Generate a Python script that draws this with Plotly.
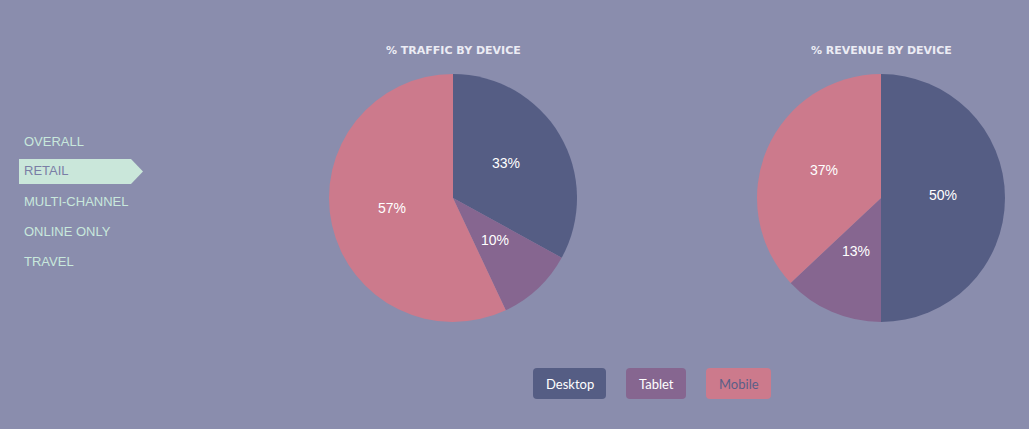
import math
import plotly.graph_objects as go

W, H = 1029, 429
devices = ["Desktop", "Tablet", "Mobile"]
traffic = [33, 10, 57]
revenue = [50, 13, 37]
colors = ["#555D84", "#866690", "#CC7A8C"]
nav_items = ["OVERALL", "RETAIL", "MULTI-CHANNEL", "ONLINE ONLY", "TRAVEL"]
active_nav = "RETAIL"
chart_titles = ["% TRAFFIC BY DEVICE", "% REVENUE BY DEVICE"]

BG = "#8A8DAD"
MINT = "#CAE7DA"

def px(x): return x / W
def py(y): return 1 - y / H

fig = go.Figure()
annotations = []
shapes = []

def add_pie(values, x0, x1, y0, y1):
    fig.add_trace(go.Pie(
        labels=devices, values=values, sort=False, direction="clockwise", rotation=0,
        marker=dict(colors=colors, line=dict(width=0)),
        textinfo="none",
        hoverinfo="none", showlegend=False,
        domain=dict(x=[px(x0), px(x1)], y=[py(y1), py(y0)]),
    ))
    # percentage labels at half radius along each slice's mid-angle
    cx, cy = (x0 + x1) / 2, (y0 + y1) / 2
    r = (x1 - x0) / 2 * 0.5
    total = sum(values)
    cum = 0
    for v in values:
        mid = (cum + v / 2) / total * 2 * math.pi
        cum += v
        lx = cx + r * math.sin(mid)
        ly = cy - r * math.cos(mid) - 3.5
        annotations.append(dict(x=px(lx), y=py(ly), xref="paper", yref="paper",
                                text="%d%%" % v, showarrow=False,
                                xanchor="center", yanchor="middle",
                                font=dict(size=14, color="white",
                                          family="Liberation Sans, Arial")))

add_pie(traffic, 329, 577, 74, 322)
add_pie(revenue, 757, 1005, 74, 322)

# titles
for title, cx in zip(chart_titles, [453, 881]):
    annotations.append(dict(x=px(cx), y=py(50), xref="paper", yref="paper", text="<b>%s</b>" % title,
                            showarrow=False, xanchor="center", yanchor="middle",
                            font=dict(size=11, color="#ECECF4", family="DejaVu Sans")))

# nav
for i, item in enumerate(nav_items):
    yc = 141 + 30 * i
    active = item == active_nav
    if active:
        shapes.append(dict(type="path", xref="paper", yref="paper",
                           path="M %f,%f L %f,%f L %f,%f L %f,%f L %f,%f Z" % (
                               px(19), py(159), px(131), py(159), px(143), py(171.5),
                               px(131), py(184), px(19), py(184)),
                           fillcolor=MINT, line=dict(width=0), layer="below"))
    annotations.append(dict(x=px(22), y=py(yc), xref="paper", yref="paper", text=item,
                            showarrow=False, xanchor="left", yanchor="middle",
                            font=dict(size=13, color="#7A7EA6" if active else "#C8E8DC",
                                      family="Liberation Sans, Arial")))

# legend buttons
def rrect(x0, y0, x1, y1, r=4):
    return ("M %f,%f L %f,%f Q %f,%f %f,%f L %f,%f Q %f,%f %f,%f L %f,%f Q %f,%f %f,%f "
            "L %f,%f Q %f,%f %f,%f Z") % (
        px(x0 + r), py(y0), px(x1 - r), py(y0), px(x1), py(y0), px(x1), py(y0 + r),
        px(x1), py(y1 - r), px(x1), py(y1), px(x1 - r), py(y1),
        px(x0 + r), py(y1), px(x0), py(y1), px(x0), py(y1 - r),
        px(x0), py(y0 + r), px(x0), py(y0), px(x0 + r), py(y0))

btns = [(533, 606), (626, 686), (706, 771)]
txtcolors = ["white", "white", "#5A5F88"]
for dev, col, (x0, x1), tc in zip(devices, colors, btns, txtcolors):
    shapes.append(dict(type="path", xref="paper", yref="paper", path=rrect(x0, 368, x1, 399),
                       fillcolor=col, line=dict(width=0), layer="below"))
    annotations.append(dict(x=px((x0 + x1) / 2), y=py(383.5), xref="paper", yref="paper", text=dev,
                            showarrow=False, xanchor="center", yanchor="middle",
                            font=dict(size=13, color=tc, family="Lato, Open Sans")))

fig.update_layout(width=W, height=H, margin=dict(l=0, r=0, t=0, b=0),
                  paper_bgcolor=BG, plot_bgcolor=BG,
                  annotations=annotations, shapes=shapes, showlegend=False)
fig.write_html("out.html", config={"displayModeBar": False})
